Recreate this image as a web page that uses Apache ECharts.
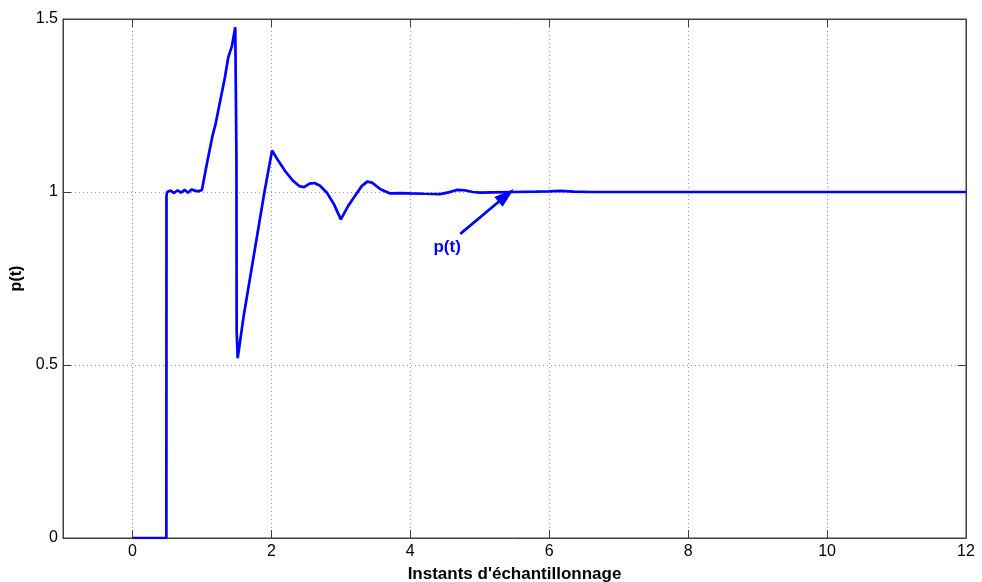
<!DOCTYPE html>
<html>
<head>
<meta charset="utf-8">
<script src="https://cdn.jsdelivr.net/npm/echarts@6/dist/echarts.min.js"></script>
<style>html,body{margin:0;padding:0;background:#fff}#c{width:982px;height:582px}</style>
</head>
<body>
<div id="c"></div>
<script>
// Data
const tValues = [0, 0.488, 0.49, 0.5, 0.55, 0.6, 0.65, 0.7, 0.75, 0.8, 0.85, 0.9, 0.95, 1.0,
  1.07, 1.15, 1.2, 1.27, 1.33, 1.38, 1.43, 1.48, 1.49, 1.497, 1.5, 1.515,
  1.6, 1.7, 1.8, 1.9, 2.01,
  2.1, 2.2, 2.3, 2.4, 2.47, 2.55, 2.62, 2.7, 2.8, 2.9, 3.0,
  3.1, 3.2, 3.3, 3.38, 3.45, 3.57, 3.71, 3.85, 4.0, 4.2, 4.43, 4.55, 4.67, 4.78, 4.9, 5.0,
  5.2, 5.5, 5.8, 6.0, 6.16, 6.35, 6.6, 8, 10, 12];
const pValues = [0, 0, 0.99, 1.0, 1.004, 0.997, 1.005, 0.998, 1.006, 0.998, 1.007, 1.004, 1.002, 1.006,
  1.08, 1.16, 1.2, 1.27, 1.33, 1.39, 1.42, 1.476, 1.476, 1.1, 0.6, 0.52,
  0.64, 0.76, 0.88, 1.0, 1.12,
  1.09, 1.06, 1.035, 1.017, 1.014, 1.024, 1.026, 1.018, 0.998, 0.965, 0.921,
  0.958, 0.988, 1.017, 1.03, 1.027, 1.008, 0.996, 0.997, 0.996, 0.995, 0.994, 0.999, 1.006, 1.005, 1.0, 0.998,
  0.999, 1.0, 1.001, 1.002, 1.003, 1.001, 1.0, 1.0, 1.0, 1.0];
const yTicks = [0, 0.5, 1, 1.5];
const annotationText = 'p(t)';
const arrowFrom = [4.72, 0.879];
const arrowTo = [5.38, 0.99];
const textAt = [4.53, 0.84];

const font = '"Liberation Sans", Arial, Helvetica, sans-serif';
const chart = echarts.init(document.getElementById('c'), null, {renderer: 'canvas'});
const gridStyle = {color: '#9a9a9a', width: 1, type: [1, 3]};
const axisCommon = {
  type: 'value', min: -1, max: 12, minInterval: 2, maxInterval: 2, splitNumber: 6
};
chart.setOption({
  animation: false,
  grid: {left: 63, right: 16, top: 19, bottom: 44, outerBoundsMode: 'none', containLabel: false,
    show: true, borderColor: '#404040', borderWidth: 1, backgroundColor: 'transparent'},
  xAxis: [
    Object.assign({}, axisCommon, {
      position: 'bottom',
      name: "Instants d'échantillonnage",
      nameLocation: 'middle', nameGap: 28,
      nameTextStyle: {fontFamily: font, fontSize: 17, fontWeight: 'bold', color: '#000'},
      axisLine: {show: true, onZero: false, lineStyle: {color: '#404040', width: 1}},
      axisTick: {show: true, inside: true, length: 8, lineStyle: {color: '#404040'}},
      axisLabel: {show: true, showMinLabel: false, margin: 6, fontFamily: font, fontSize: 16, color: '#000',
        formatter: v => (v < 0 ? '' : String(v))},
      splitLine: {show: true, lineStyle: gridStyle}
    }),
    Object.assign({}, axisCommon, {
      position: 'top',
      axisLine: {show: true, onZero: false, lineStyle: {color: '#404040', width: 1}},
      axisTick: {show: true, inside: true, length: 8, lineStyle: {color: '#404040'}},
      axisLabel: {show: false},
      splitLine: {show: false}
    })
  ],
  yAxis: [
    {
      type: 'value', min: yTicks[0], max: yTicks[yTicks.length - 1], interval: 0.5,
      position: 'left',
      name: 'p(t)', nameLocation: 'middle', nameGap: 38, nameRotate: 90,
      nameTextStyle: {fontFamily: font, fontSize: 16, fontWeight: 'bold', color: '#000'},
      axisLine: {show: true, onZero: false, lineStyle: {color: '#404040', width: 1}},
      axisTick: {show: true, inside: true, length: 8, lineStyle: {color: '#404040'}},
      axisLabel: {margin: 5, fontFamily: font, fontSize: 16, color: '#000', formatter: v => String(v)},
      splitLine: {show: true, lineStyle: gridStyle}
    },
    {
      type: 'value', min: yTicks[0], max: yTicks[yTicks.length - 1], interval: 0.5,
      position: 'right',
      axisLine: {show: true, onZero: false, lineStyle: {color: '#404040', width: 1}},
      axisTick: {show: true, inside: true, length: 8, lineStyle: {color: '#404040'}},
      axisLabel: {show: false},
      splitLine: {show: false}
    }
  ],
  series: [{
    type: 'line',
    xAxisIndex: 0, yAxisIndex: 0,
    data: tValues.map((t, i) => [t, pValues[i]]),
    showSymbol: false,
    symbol: 'none',
    lineStyle: {color: '#0000ff', width: 2.7},
    itemStyle: {color: '#0000ff'},
    markLine: {
      silent: true,
      symbol: ['none', 'path://M5,0 L10,16 L0,16 Z'],
      symbolSize: [13, 20],
      label: {show: false},
      itemStyle: {color: '#0000ff'},
      lineStyle: {color: '#0000ff', width: 2.7, type: 'solid'},
      data: [[{coord: arrowFrom}, {coord: arrowTo}]]
    },
    markPoint: {
      silent: true,
      symbol: 'circle', symbolSize: 0,
      label: {show: true, formatter: annotationText, position: 'inside', fontFamily: font, fontSize: 17, fontWeight: 'bold', color: '#0000ff'},
      data: [{coord: textAt}]
    }
  }]
});
</script>
</body>
</html>
